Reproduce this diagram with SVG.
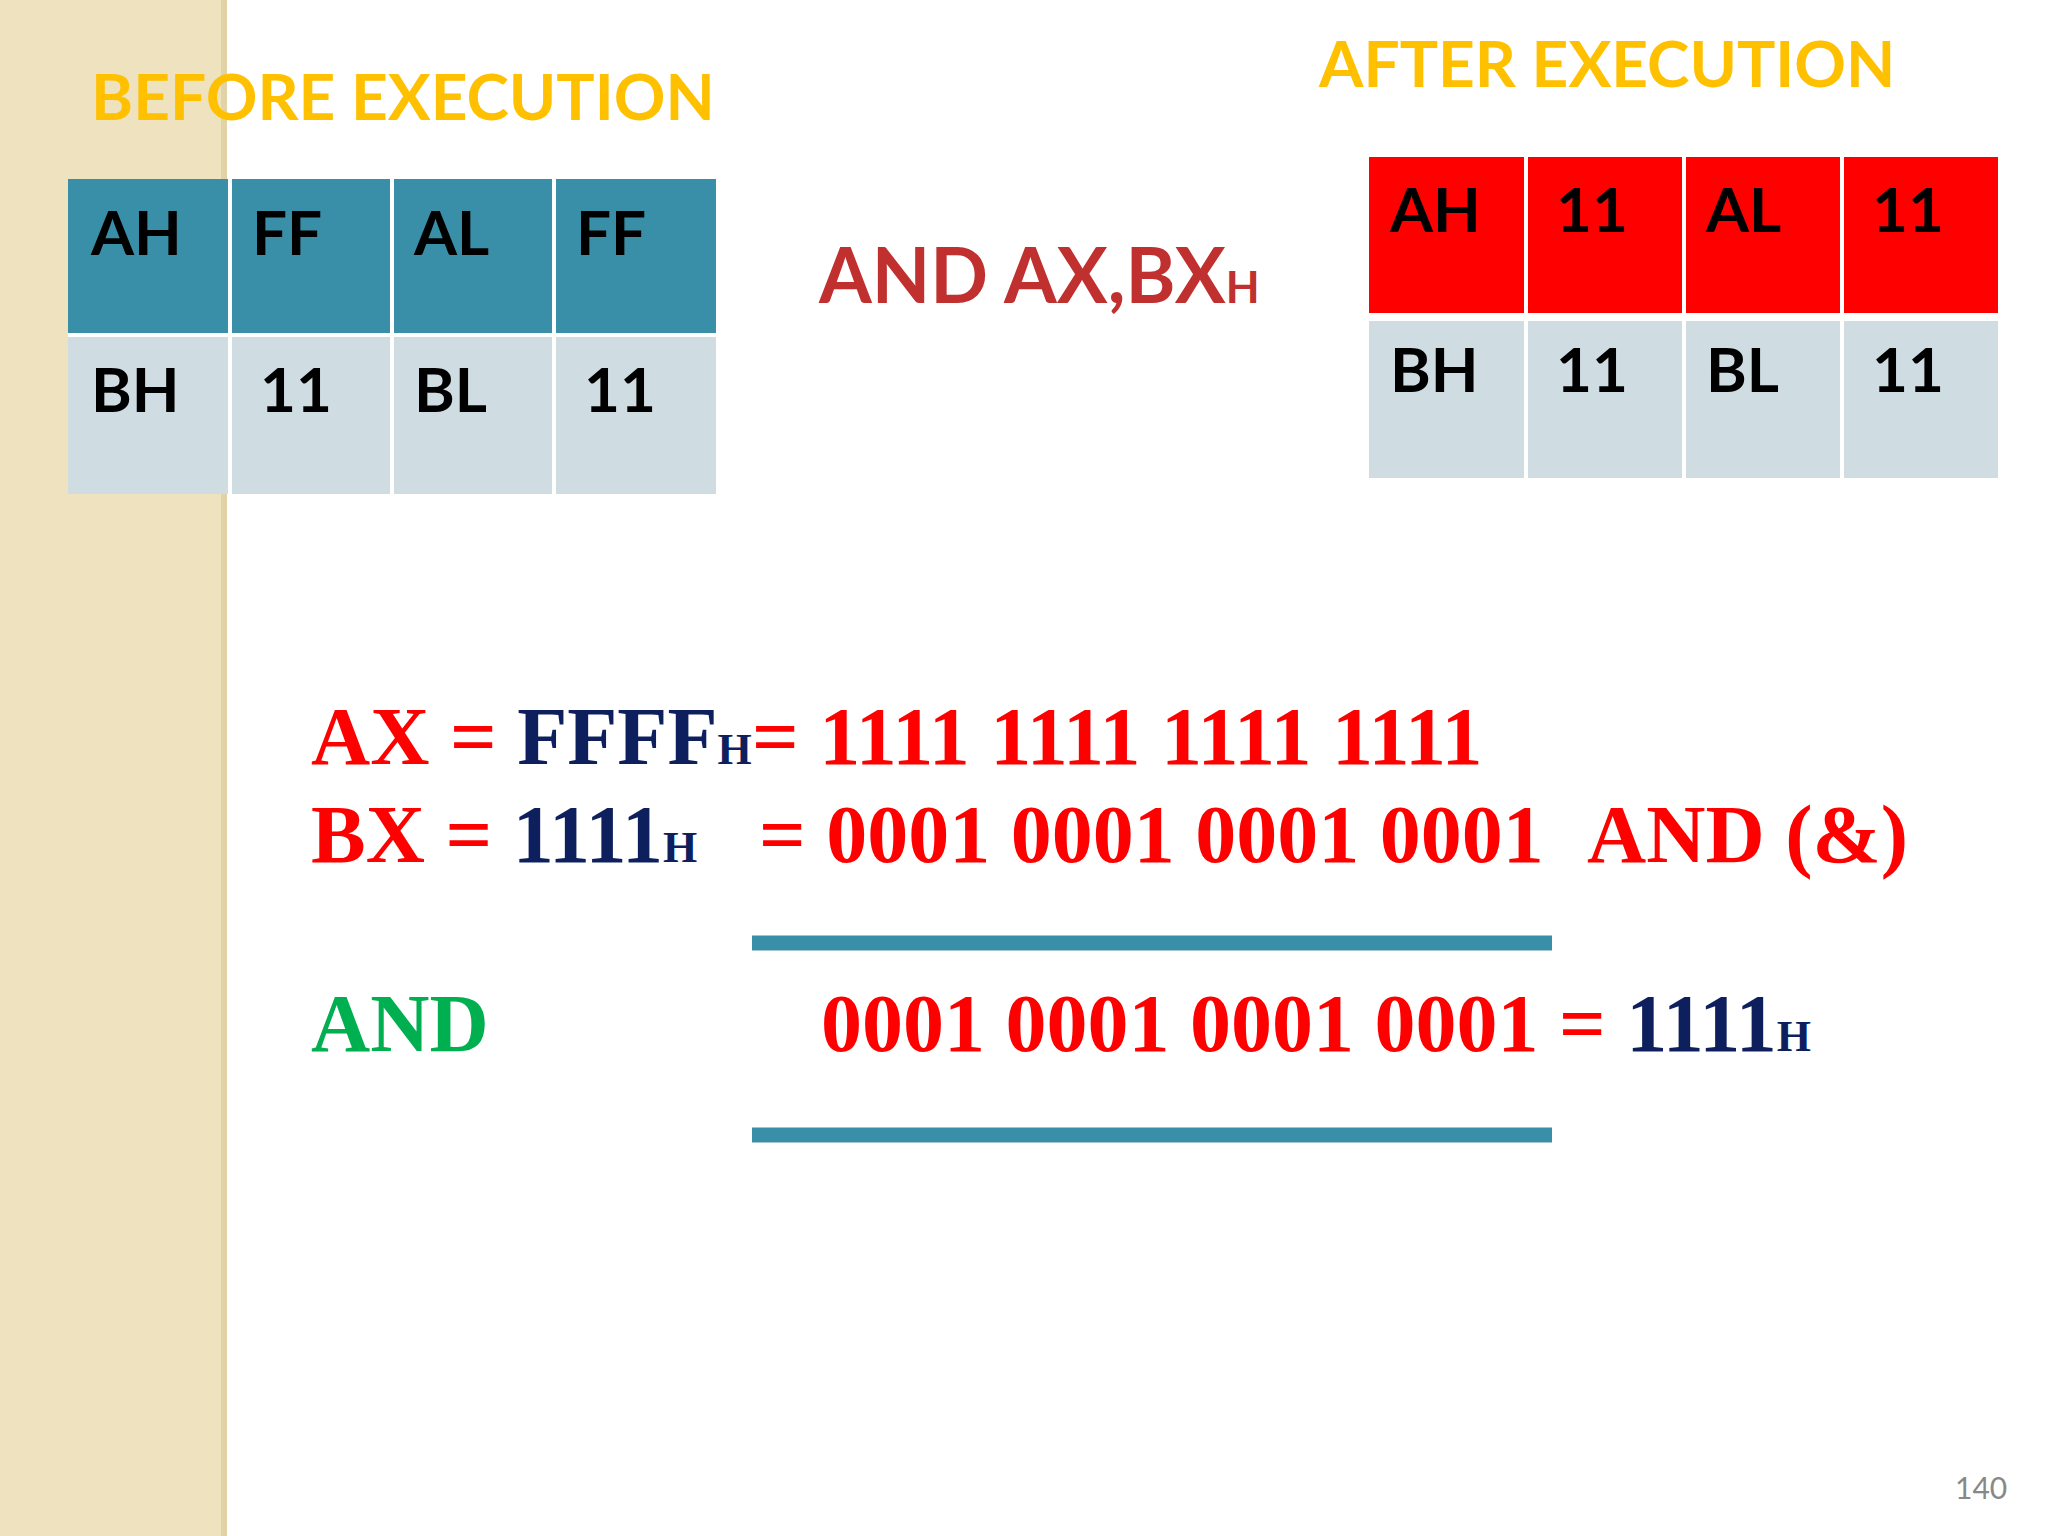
<svg xmlns="http://www.w3.org/2000/svg" width="2048" height="1536" viewBox="0 0 2048 1536">
<style>
.t{font-family:Lato,"Liberation Sans",sans-serif;font-weight:bold}
.g{fill:#ffc000;font-size:64px}
.c{font-size:62px;fill:#000}
.m{font-family:"Liberation Serif",serif;font-weight:bold;font-size:82px}
.r{fill:#ff0000}.n{fill:#0d1f5c}
</style>
<rect width="2048" height="1536" fill="#fff"/>
<rect width="227" height="1536" fill="#eee2bf"/>
<rect x="221" width="6" height="1536" fill="#e2d3a6"/>
<g id="before-title"><text class="t g" x="91" y="120">BEFORE EXECUTION</text></g>
<g id="after-title"><text class="t g" x="1319" y="87">AFTER EXECUTION</text></g>
<g id="before-table">
<rect x="68" y="179" width="648" height="154" fill="#3a8fa8"/>
<rect x="68" y="337" width="648" height="157" fill="#cfdde3"/>
<g stroke="#fff" stroke-width="4"><line x1="230" y1="179" x2="230" y2="494"/><line x1="392" y1="179" x2="392" y2="494"/><line x1="554" y1="179" x2="554" y2="494"/><line x1="68" y1="335" x2="716" y2="335"/></g>
<text class="t c" x="91" y="255">AH</text><text class="t c" x="252" y="255">FF</text><text class="t c" x="414" y="255">AL</text><text class="t c" x="576" y="255">FF</text>
<text class="t c" x="91" y="412">BH</text><text class="t c" x="260" y="412">11</text><text class="t c" x="414" y="412">BL</text><text class="t c" x="584" y="412">11</text>
</g>
<g id="instr"><text class="t" x="819" y="303" font-size="76" fill="#c0302f">AND AX,BX<tspan font-size="44">H</tspan></text></g>
<g id="after-table">
<rect x="1369" y="157" width="629" height="156" fill="#ff0000"/>
<rect x="1369" y="321" width="629" height="157" fill="#cfdde3"/>
<g stroke="#fff" stroke-width="4"><line x1="1526" y1="157" x2="1526" y2="478"/><line x1="1684" y1="157" x2="1684" y2="478"/><line x1="1842" y1="157" x2="1842" y2="478"/><line x1="1369" y1="317" x2="1998" y2="317"/></g>
<text class="t c" x="1390" y="232">AH</text><text class="t c" x="1556" y="232">11</text><text class="t c" x="1706" y="232">AL</text><text class="t c" x="1872" y="232">11</text>
<text class="t c" x="1390" y="392">BH</text><text class="t c" x="1556" y="392">11</text><text class="t c" x="1706" y="392">BL</text><text class="t c" x="1872" y="392">11</text>
</g>
<g id="calc">
<text class="m r" x="311" y="764">AX = <tspan class="n">FFFF</tspan><tspan class="n" font-size="44">H</tspan></text>
<text class="m r" x="752" y="764">= 1111 1111 1111 1111</text>
<text class="m r" x="311" y="862">BX = <tspan class="n">1111</tspan><tspan class="n" font-size="44">H</tspan></text>
<text class="m r" x="759" y="862">= 0001 0001 0001 0001</text>
<text class="m r" x="1587" y="862">AND (&amp;)</text>
<text class="m" x="311" y="1051" fill="#00b050">AND</text>
<text class="m r" x="821" y="1051">0001 0001 0001 0001 = <tspan class="n">1111</tspan><tspan class="n" font-size="44">H</tspan></text>
</g>
<g id="connectors" stroke="#3a8fa8" stroke-width="15">
<line x1="752" y1="943" x2="1552" y2="943"/>
<line x1="752" y1="1135" x2="1552" y2="1135"/>
</g>
<text x="1955" y="1499" font-family="Lato,sans-serif" font-size="30" fill="#888">140</text>
</svg>
